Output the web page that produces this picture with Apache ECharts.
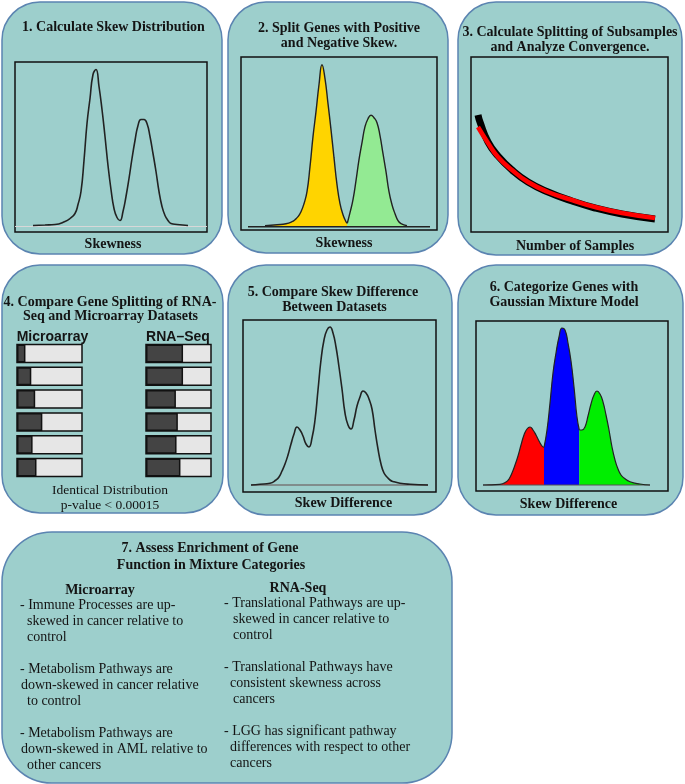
<!DOCTYPE html>
<html><head><meta charset="utf-8">
<script src="https://cdn.jsdelivr.net/npm/echarts@6/dist/echarts.min.js"></script>
<style>html,body{margin:0;padding:0;background:#fff}#c{width:685px;height:784px}</style>
</head><body><div id="c"></div>
<script>
// ---------- data ----------
// Panel 1: skew distribution (x: position in plot, y: height above baseline)
const skewCurve = [[18,1],[30,1.5],[40,2],[50,5],[55,8],[60,13],[63,22],[66,35],[69,66],[72,103],[75,128],[78,152],[81,157],[84,140],[87,117],[90,90],[93,61],[96,37],[99,18],[102,9],[105,6],[108,15],[111,30],[114,48],[117,68],[120,86],[123,101],[126,107],[129,107],[132,103],[135,90],[138,73],[141,55],[144,35],[147,20],[150,11],[153,6],[156,3],[162,2],[173,1]];
// Panel 2: negative (yellow) and positive (green) skew parts
const negSkew = [[24,1],[36,2],[45,3],[51,5],[54,7],[57,10],[60,15],[63,23],[66,35],[69,60],[72,90],[75,115],[78,142],[81,162],[84,148],[87,123],[90,97],[93,69],[96,42],[99,23],[102,12],[105,5],[106.3,3.4]];
const posSkew = [[106.3,3.4],[109,14],[112,27],[115,46],[118,67],[121,84],[124,100],[127,108],[130,111.5],[133,109],[136,104],[139,91],[142,73],[145,55],[148,35],[151,22],[154,13],[157,6],[160,3],[166,1]];
// Panel 3: splitting vs number of samples
const splitObserved = [[7,117],[9,110],[17,90],[27,76],[41,62],[57,50],[77,40],[101,31],[124,24],[151,18],[184,13]];
const splitFitted   = [[7,105],[17,89],[27,75],[41,62],[57,50],[77,40],[101,32],[124,25],[151,19],[184,14]];
// Panel 4: fraction of genes split
const rowLabels = ['1','2','3','4','5','6'];
const microarraySplit = [13,22,28,39,24,30];
const rnaSeqSplit = [57,57,46,49,47,53];
// Panel 5: skew difference distribution
const diffCurve = [[8,0],[17,0.7],[27,1.7],[33,5],[36,8],[39,14],[42,21],[45,30],[48,41],[51,51],[54,58],[57,55],[60,49],[63,41],[66,38],[69,47],[72,65],[75,95],[78,125],[81,145],[84,155],[87,158],[90,152],[93,138],[96,118],[99,96],[102,72],[105,60],[108,56],[111,65],[114,79],[117,88],[120,94],[123,92],[126,86],[129,76],[132,55],[135,36],[138,21],[141,12],[144,8],[147,5],[150,3.5],[157,1.7],[167,0.7],[185,0]];
// Panel 6: mixture components
const mixRed   = [[7,0],[24,0.7],[30,3],[33,6],[36,12],[39,20],[42,29],[45,40],[48,50],[51,56],[54,58],[57,55],[60,50],[63,44],[66,39],[68,37.7]];
const mixBlue  = [[68,37.7],[71,55],[74,82],[77,112],[80,132],[83,148],[86,157],[89,155],[92,142],[95,124],[98,98],[101,68],[103.3,55]];
const mixGreen = [[103.3,55],[106,55],[109,58],[112,69],[115,81],[118,90],[121,94],[124,91],[127,83],[130,70],[133,55],[136,38],[139,25],[142,16],[145,10],[148,7],[154,3.3],[164,1],[174,0]];

// Texts
const microNotes = [
  ['- Immune Processes are up-','skewed in cancer relative to','control'],
  ['- Metabolism Pathways are','down-skewed in cancer relative','to control'],
  ['- Metabolism Pathways are','down-skewed in AML relative to','other cancers']
];
const rnaNotes = [
  ['- Translational Pathways are up-','skewed in cancer relative to','control'],
  ['- Translational Pathways have','consistent skewness across','cancers'],
  ['- LGG has significant pathway','differences with respect to other','cancers']
];

// ---------- layout ----------
const FILL = '#9dcfcc', EDGE = '#5b84b1';
const TF = 'bold 14px "Liberation Serif"';
const BF = '14px "Liberation Serif"';
function panel(x,y,w,h,r){return {type:'rect',z:-10,shape:{x:x,y:y,width:w,height:h,r:r},style:{fill:FILL,stroke:EDGE,lineWidth:1.5}};}
function txt(s,x,y,font,align){return {type:'text',z:50,x:x,y:y,style:{text:s,font:font||TF,fill:'#141414',textAlign:align||'center',textVerticalAlign:'middle'}};}

const graphics = [
  panel(2,2,220,252,38), panel(228,2,220,251,38), panel(458,2,224,253,38),
  panel(2,265,221,248,38), panel(228,265,224,250,38), panel(458,265,225,250,38),
  panel(2,532,450,251,50),
  txt('1. Calculate Skew Distribution',113.5,27),
  txt('Skewness',113,244),
  txt('2. Split Genes with Positive',339,28),
  txt('and Negative Skew.',339,43.5),
  txt('Skewness',344,243),
  txt('3. Calculate Splitting of Subsamples',570,32),
  txt('and Analyze Convergence.',570,47),
  txt('Number of Samples',575,246),
  txt('4. Compare Gene Splitting of RNA-',110,302.5),
  txt('Seq and Microarray Datasets',110.5,316),
  txt('Microarray',52.5,337,'bold 14px "Liberation Sans"'),
  txt('RNA\u2013Seq',178,337,'bold 14px "Liberation Sans"'),
  txt('Identical Distribution',110,490,'13.5px "Liberation Serif"'),
  txt('p-value < 0.00015',110,505,'13.5px "Liberation Serif"'),
  txt('5. Compare Skew Difference',333,292),
  txt('Between Datasets',334.5,307),
  txt('Skew Difference',343.5,503),
  txt('6. Categorize Genes with',564,287),
  txt('Gaussian Mixture Model',564,302.5),
  txt('Skew Difference',568.5,504),
  txt('7. Assess Enrichment of Gene',210,548.5),
  txt('Function in Mixture Categories',211,565),
  txt('Microarray',100,590),
  txt('RNA-Seq',298,588.5)
];
const leftStarts = [605,669,733], rightStarts = [603,667,731];
microNotes.forEach(function(item,i){
  item.forEach(function(line,j){
    const x = j===0 ? 20 : ((i>0 && j===1) ? 21 : 27);
    graphics.push(txt(line,x,leftStarts[i]+j*16,BF,'left'));
  });
});
rnaNotes.forEach(function(item,i){
  item.forEach(function(line,j){
    const x = j===0 ? 224 : ((i>0 && j===1) ? 230 : (i===2 ? 230 : 233));
    graphics.push(txt(line,x,rightStarts[i]+j*16,BF,'left'));
  });
});

const boxGrid = function(l,t,w,h){return {left:l,top:t,width:w,height:h,show:true,borderColor:'#111',borderWidth:1.5,backgroundColor:'transparent'};};
const grids = [
  boxGrid(15,62,192,170),
  boxGrid(241,57,196,173),
  boxGrid(471,57,197,175),
  {left:17,top:342,width:65,height:137,show:false},
  {left:146,top:342,width:65,height:137,show:false},
  boxGrid(243,320,193,172),
  boxGrid(476,321,192,170)
];
function vx(i,min,max){return {type:'value',gridIndex:i,min:min,max:max,show:false};}
const xAxes = [vx(0,0,192),vx(1,0,196),vx(2,0,197),vx(3,0,100),vx(4,0,100),vx(5,0,193),vx(6,0,192)];
const yAxes = [vx(0,-5.5,164.5),vx(1,-3.3,169.7),vx(2,0,175),
  {type:'category',gridIndex:3,data:rowLabels,inverse:true,show:false},
  {type:'category',gridIndex:4,data:rowLabels,inverse:true,show:false},
  vx(5,-7,165),vx(6,-6,164)];

function line(i,data,color,width,extra){
  return Object.assign({type:'line',xAxisIndex:i,yAxisIndex:i,data:data,smooth:0.5,symbol:'none',silent:true,
    lineStyle:{color:color,width:width}},extra||{});
}
function bars(i,data){
  return {type:'bar',xAxisIndex:i,yAxisIndex:i,data:data,barWidth:18,silent:true,showBackground:true,
    backgroundStyle:{color:'#e6e6e6',borderColor:'#111',borderWidth:1.5},
    itemStyle:{color:'#444',borderColor:'#111',borderWidth:1.5}};
}
const series = [
  line(0,[[0,0],[192,0]],'#d8d8d8',1.2,{smooth:false}),
  line(0,skewCurve,'#222',1.6),
  line(1,[[7,0],[189,0]],'#222',1.4,{smooth:false}),
  line(1,negSkew,'#222',1.4,{areaStyle:{color:'#ffd400',opacity:1}}),
  line(1,posSkew,'#222',1.4,{areaStyle:{color:'#93ea93',opacity:1}}),
  line(2,splitObserved,'#000',7),
  line(2,splitFitted,'#ff0000',4.5),
  bars(3,microarraySplit),
  bars(4,rnaSeqSplit),
  line(5,[[8,0],[185,0]],'#777',1.6,{smooth:false}),
  line(5,diffCurve,'#222',1.6),
  line(6,[[7,0],[174,0]],'#555',1.2,{smooth:false}),
  line(6,mixRed,'#222',1.2,{areaStyle:{color:'#ff0000',opacity:1}}),
  line(6,mixBlue,'#222',1.2,{areaStyle:{color:'#0000ff',opacity:1}}),
  line(6,mixGreen,'#222',1.2,{areaStyle:{color:'#00ee00',opacity:1}})
];

const chart = echarts.init(document.getElementById('c'),null,{renderer:'canvas'});
chart.setOption({animation:false,backgroundColor:'#ffffff',grid:grids,xAxis:xAxes,yAxis:yAxes,series:series,graphic:{elements:graphics}});
</script></body></html>
